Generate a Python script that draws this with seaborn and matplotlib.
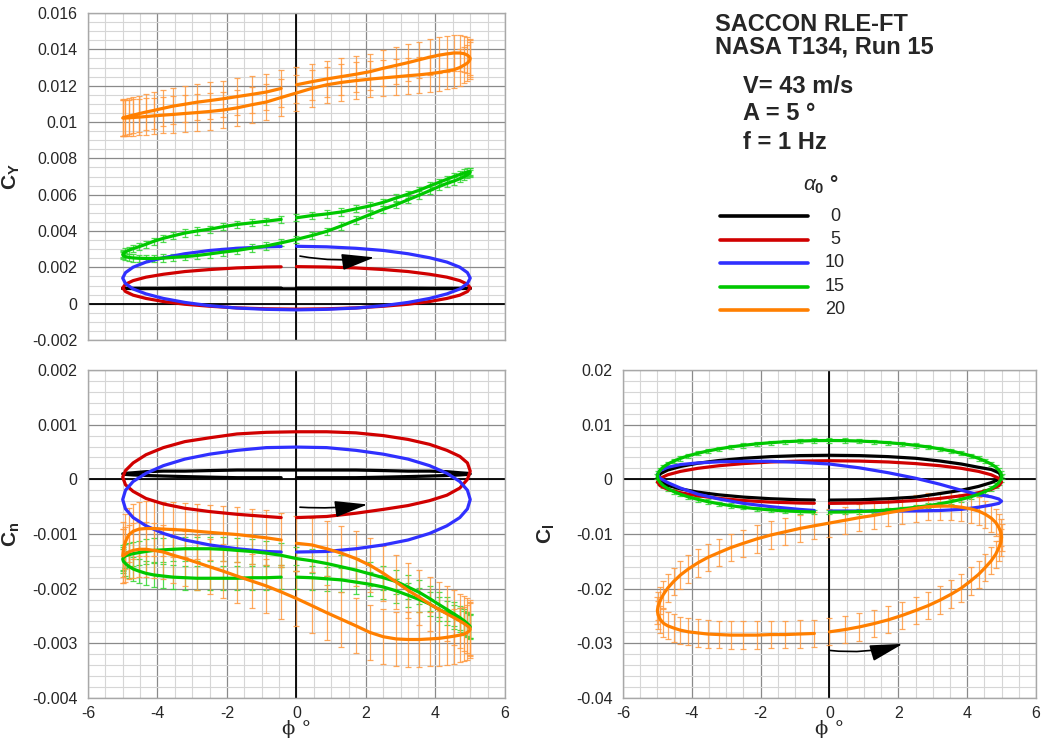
import matplotlib
matplotlib.use("Agg")
import numpy as np
import pandas as pd
import matplotlib.pyplot as plt
import seaborn as sns
from matplotlib.lines import Line2D
from matplotlib.ticker import MultipleLocator, FuncFormatter

sns.set_theme(style="white")
plt.rcParams["font.family"] = ["Liberation Sans", "DejaVu Sans"]
plt.rcParams["mathtext.fontset"] = "custom"
plt.rcParams["mathtext.rm"] = "Liberation Sans"
plt.rcParams["mathtext.bf"] = "Liberation Sans:bold"
plt.rcParams["mathtext.it"] = "Liberation Sans:italic"
plt.rcParams["axes.unicode_minus"] = False

# ---------------------------------------------------------------------------
# Roll angle over one forced-oscillation cycle (A = 5 deg)
# fine sampling: every 5 deg of phase, coarse sampling: every 10 deg of phase
PHI_FINE = [0.0, 0.44, 0.87, 1.29, 1.71, 2.11, 2.5, 2.87, 3.21, 3.54, 3.83, 4.1, 4.33, 4.53, 4.7, 4.83, 4.92, 4.98, 5.0,
            4.98, 4.92, 4.83, 4.7, 4.53, 4.33, 4.1, 3.83, 3.54, 3.21, 2.87, 2.5, 2.11, 1.71, 1.29, 0.87, 0.44, 0.0,
            -0.44, -0.87, -1.29, -1.71, -2.11, -2.5, -2.87, -3.21, -3.54, -3.83, -4.1, -4.33, -4.53, -4.7, -4.83, -4.92, -4.98, -5.0,
            -4.98, -4.92, -4.83, -4.7, -4.53, -4.33, -4.1, -3.83, -3.54, -3.21, -2.87, -2.5, -2.11, -1.71, -1.29, -0.87, -0.44]
PHI_COARSE = [0.0, 0.87, 1.71, 2.5, 3.21, 3.83, 4.33, 4.7, 4.92, 5.0,
              4.92, 4.7, 4.33, 3.83, 3.21, 2.5, 1.71, 0.87, 0.0,
              -0.87, -1.71, -2.5, -3.21, -3.83, -4.33, -4.7, -4.92, -5.0,
              -4.92, -4.7, -4.33, -3.83, -3.21, -2.5, -1.71, -0.87, -0.44]

ALPHA0 = ["0", "5", "10", "15", "20"]
COLORS = ["#000000", "#d00000", "#3030ff", "#00c800", "#ff7f00"]
ERR_COLORS = {"15": "#33d633", "20": "#ff9a40"}

# ---- side force coefficient C_Y ----
CY_0 = [0.00086, 0.00086, 0.00086, 0.00086, 0.00086, 0.00085, 0.00085, 0.00085, 0.00084, 0.00084,
        0.00084, 0.00083, 0.00083, 0.00083, 0.00082, 0.00082, 0.00082, 0.00082, 0.00082,
        0.00082, 0.00082, 0.00082, 0.00082, 0.00083, 0.00083, 0.00083, 0.00084, 0.00084,
        0.00084, 0.00085, 0.00085, 0.00085, 0.00086, 0.00086, 0.00086, 0.00086, 0.00086]
CY_5 = [0.00204, 0.00202, 0.00197, 0.00188, 0.00177, 0.00162, 0.00146, 0.00127, 0.00107, 0.00087,
        0.00067, 0.00047, 0.00029, 0.00012, -0.00003, -0.00014, -0.00023, -0.00028, -0.0003,
        -0.00028, -0.00023, -0.00014, -0.00003, 0.00012, 0.00029, 0.00047, 0.00067, 0.00087,
        0.00107, 0.00127, 0.00146, 0.00162, 0.00177, 0.00188, 0.00197, 0.00202, 0.00203]
CY_10 = [0.00316, 0.00313, 0.00305, 0.00293, 0.00275, 0.00253, 0.00229, 0.00201, 0.00171, 0.00141,
         0.00111, 0.00081, 0.00054, 0.00029, 0.00007, -0.00011, -0.00024, -0.00031, -0.00034,
         -0.00031, -0.00024, -0.00011, 0.00007, 0.00029, 0.00054, 0.00081, 0.00111, 0.00141,
         0.00171, 0.00201, 0.00229, 0.00253, 0.00275, 0.00293, 0.00305, 0.00313, 0.00315]
CY_15 = [0.00473, 0.00485, 0.00494, 0.00505, 0.00522, 0.00538, 0.00558, 0.00582, 0.00603, 0.00625, 0.00648, 0.00668, 0.00685, 0.007, 0.00711, 0.0072, 0.00725, 0.00727, 0.00725,
         0.00718, 0.0071, 0.007, 0.00688, 0.00675, 0.00662, 0.00645, 0.00622, 0.00598, 0.00572, 0.00545, 0.0052, 0.0049, 0.0046, 0.00428, 0.00398, 0.00375, 0.00354,
         0.00335, 0.00318, 0.00306, 0.00293, 0.00284, 0.00274, 0.00265, 0.00259, 0.00255, 0.00251, 0.00249, 0.00249, 0.0025, 0.00252, 0.00255, 0.00259, 0.00264, 0.0027,
         0.00277, 0.00285, 0.00294, 0.00303, 0.00314, 0.00327, 0.00344, 0.0036, 0.00374, 0.00389, 0.004, 0.0041, 0.00424, 0.00436, 0.00445, 0.00454, 0.00464]
CY_20 = [0.01205, 0.01222, 0.01237, 0.0125, 0.01263, 0.01277, 0.01296, 0.01312, 0.01327, 0.01343, 0.01357, 0.01368, 0.01375, 0.0138, 0.0138, 0.01376, 0.01368, 0.01358, 0.0135,
         0.01338, 0.01325, 0.01314, 0.013, 0.01288, 0.01281, 0.01273, 0.01266, 0.0126, 0.01255, 0.01249, 0.01243, 0.01236, 0.01228, 0.01218, 0.01205, 0.01185, 0.0116,
         0.01135, 0.0111, 0.01095, 0.01078, 0.01066, 0.01058, 0.01052, 0.01047, 0.01042, 0.01038, 0.01034, 0.0103, 0.01027, 0.01025, 0.01023, 0.01022, 0.01022, 0.01022,
         0.01024, 0.01027, 0.01032, 0.01038, 0.01046, 0.01055, 0.01064, 0.01076, 0.01088, 0.01098, 0.01109, 0.01118, 0.01128, 0.0114, 0.01152, 0.01165, 0.01185]
CY_ERR = {"15": 0.0002, "20": 0.001}

# ---- yawing moment coefficient C_n ----
CN_0 = [0.00003, 0.00003, 0.00003, 0.00004, 0.00005, 0.00006, 0.00007, 0.00008, 0.00009, 0.0001,
        0.00011, 0.00012, 0.00014, 0.00015, 0.00015, 0.00016, 0.00017, 0.00017, 0.00017,
        0.00017, 0.00017, 0.00016, 0.00015, 0.00015, 0.00014, 0.00012, 0.00011, 0.0001,
        0.00009, 0.00008, 0.00007, 0.00006, 0.00005, 0.00004, 0.00003, 0.00003, 0.00003]
CN_5 = [-0.0007, -0.00068, -0.00062, -0.00055, -0.00048, -0.00039, -0.00029, -0.00016, 0.0, 0.00015,
        0.0003, 0.00042, 0.00053, 0.00064, 0.00073, 0.0008, 0.00085, 0.00087, 0.00087,
        0.00086, 0.00083, 0.00076, 0.00069, 0.00058, 0.00045, 0.0003, 0.00016, 0.00004,
        -0.0001, -0.00022, -0.00035, -0.00045, -0.00053, -0.00059, -0.00064, -0.00068, -0.0007]
CN_10 = [-0.00133, -0.00132, -0.00127, -0.0012, -0.00111, -0.00099, -0.00085, -0.0007, -0.00054, -0.00037,
         -0.0002, -0.00004, 0.00011, 0.00025, 0.00037, 0.00046, 0.00053, 0.00058, 0.00059,
         0.00058, 0.00053, 0.00046, 0.00037, 0.00025, 0.00011, -0.00004, -0.0002, -0.00037,
         -0.00054, -0.0007, -0.00085, -0.00099, -0.00111, -0.0012, -0.00127, -0.00132, -0.00133]
CN_15 = [-0.00179, -0.0018, -0.00182, -0.00184, -0.00188, -0.00192, -0.00197, -0.00204, -0.00212, -0.0022, -0.00228, -0.00238, -0.00245, -0.00252, -0.00258, -0.00263, -0.00267, -0.00269, -0.0027,
         -0.00268, -0.00264, -0.00259, -0.00253, -0.00246, -0.00238, -0.00229, -0.00218, -0.00207, -0.00197, -0.00187, -0.0018, -0.00173, -0.00166, -0.0016, -0.00154, -0.00149, -0.00145,
         -0.00139, -0.00135, -0.00132, -0.0013, -0.00128, -0.00127, -0.00127, -0.00127, -0.00128, -0.00129, -0.0013, -0.00132, -0.00134, -0.00136, -0.00138, -0.0014, -0.00143, -0.00146,
         -0.0015, -0.00154, -0.00159, -0.00164, -0.00168, -0.00172, -0.00175, -0.00177, -0.00179, -0.0018, -0.00181, -0.00181, -0.00181, -0.00181, -0.0018, -0.0018, -0.00179]
CN_20 = [-0.00117, -0.0012, -0.00127, -0.00135, -0.00145, -0.00157, -0.00172, -0.00188, -0.00203, -0.00216, -0.00228, -0.00238, -0.00246, -0.00253, -0.00259, -0.00264, -0.00268, -0.00271, -0.00274,
         -0.00277, -0.0028, -0.00283, -0.00285, -0.00287, -0.00289, -0.00291, -0.00292, -0.00293, -0.00293, -0.00292, -0.00288, -0.0028, -0.00268, -0.00256, -0.00244, -0.00231, -0.00218,
         -0.00206, -0.00195, -0.00186, -0.00177, -0.00168, -0.0016, -0.00152, -0.00145, -0.00139, -0.00133, -0.0013, -0.00128, -0.00128, -0.0013, -0.00133, -0.00137, -0.0014, -0.0014,
         -0.00128, -0.00114, -0.00102, -0.00095, -0.00091, -0.0009, -0.0009, -0.00091, -0.00092, -0.00093, -0.00095, -0.00097, -0.00099, -0.00101, -0.00104, -0.00107, -0.00111]
CN_ERR = {"15": 0.00022, "20": 0.0005}

# ---- rolling moment coefficient C_l ----
CL_0 = [-0.0038, -0.00374, -0.00355, -0.00325, -0.0026, -0.002, -0.0013, -0.0006, 0.0, 0.0006,
        0.0012, 0.0018, 0.0022, 0.0028, 0.00335, 0.00385, 0.00415, 0.00434, 0.0044,
        0.00434, 0.00415, 0.00385, 0.00344, 0.00294, 0.00235, 0.0017, 0.00101, 0.0003,
        -0.00041, -0.0011, -0.00175, -0.00234, -0.00284, -0.00325, -0.00355, -0.00374, -0.00378]
CL_5 = [-0.0044, -0.00434, -0.00417, -0.00388, -0.00349, -0.00301, -0.00245, -0.00183, -0.00118, -0.0005,
        0.00018, 0.00083, 0.00145, 0.00201, 0.00249, 0.00288, 0.00317, 0.00334, 0.0034,
        0.00334, 0.00317, 0.00288, 0.00249, 0.00201, 0.00145, 0.00083, 0.00018, -0.0005,
        -0.00118, -0.00183, -0.00245, -0.00301, -0.00349, -0.00388, -0.00417, -0.00434, -0.00438]
CL_10 = [-0.0058, -0.0058, -0.0058, -0.00578, -0.0057, -0.0055, -0.0051, -0.0047, -0.0044, -0.004,
         -0.0036, -0.0032, -0.0028, -0.002, -0.0009, 0.0002, 0.0012, 0.0021, 0.0028,
         0.0031, 0.0033, 0.0033, 0.0032, 0.003, 0.0027, 0.0022, 0.0016, 0.0009,
         0.0002, -0.0006, -0.0016, -0.0027, -0.0036, -0.0044, -0.005, -0.0055, -0.0057]
CL_15 = [-0.006, -0.00598, -0.0059, -0.00578, -0.0056, -0.00539, -0.00512, -0.00482, -0.00447, -0.00408, -0.00366, -0.00321, -0.00273, -0.00222, -0.00169, -0.00115, -0.00059, -0.00002, 0.00055,
         0.00112, 0.00169, 0.00225, 0.00279, 0.00332, 0.00383, 0.00431, 0.00476, 0.00518, 0.00557, 0.00592, 0.00622, 0.00649, 0.0067, 0.00688, 0.007, 0.00708, 0.0071,
         0.00708, 0.007, 0.00688, 0.0067, 0.00649, 0.00622, 0.00592, 0.00557, 0.00518, 0.00476, 0.00431, 0.00383, 0.00332, 0.00279, 0.00225, 0.00169, 0.00112, 0.00055,
         -0.00002, -0.00059, -0.00115, -0.00169, -0.00222, -0.00273, -0.00321, -0.00366, -0.00408, -0.00447, -0.00482, -0.00512, -0.00539, -0.0056, -0.00578, -0.0059, -0.00598]
CL_20 = [-0.0279, -0.0275, -0.027, -0.0264, -0.0257, -0.0249, -0.024, -0.0231, -0.0221, -0.021, -0.0199, -0.0186, -0.0174, -0.0161, -0.0149, -0.0137, -0.0125, -0.0115, -0.0106,
         -0.0097, -0.0088, -0.0079, -0.0071, -0.0064, -0.0058, -0.0054, -0.0051, -0.0049, -0.0049, -0.005, -0.0053, -0.0057, -0.0061, -0.0066, -0.007, -0.0075, -0.008,
         -0.0085, -0.009, -0.0096, -0.0102, -0.0109, -0.0117, -0.0125, -0.0134, -0.0143, -0.0153, -0.0164, -0.0175, -0.0187, -0.0199, -0.0211, -0.0222, -0.0232, -0.024,
         -0.0248, -0.0256, -0.0263, -0.0268, -0.0272, -0.0276, -0.0279, -0.0281, -0.0283, -0.0284, -0.0285, -0.0285, -0.0285, -0.0284, -0.0284, -0.0283, -0.0282]
CL_ERR = {"15": 0.0004, "20": 0.0025}

CY_TICKS = [-0.002, 0.0, 0.002, 0.004, 0.006, 0.008, 0.01, 0.012, 0.014, 0.016]
CN_TICKS = [-0.004, -0.003, -0.002, -0.001, 0.0, 0.001, 0.002]
CL_TICKS = [-0.04, -0.03, -0.02, -0.01, 0.0, 0.01, 0.02]
PHI_TICKS = [-6, -4, -2, 0, 2, 4, 6]


def tick_label(v, pos):
    s = f"{v:.4f}".rstrip("0").rstrip(".")
    return "0" if s in ("-0", "0", "") else s


def style_axes(ax, ticks, minor_step, show_x):
    ax.set_xlim(PHI_TICKS[0], PHI_TICKS[-1])
    ax.set_ylim(ticks[0], ticks[-1])
    ax.set_xticks(PHI_TICKS)
    ax.set_yticks(ticks)
    ax.xaxis.set_minor_locator(MultipleLocator(0.5))
    ax.yaxis.set_minor_locator(MultipleLocator(minor_step))
    ax.yaxis.set_major_formatter(FuncFormatter(tick_label))
    ax.grid(which="major", color="#8a8a8a", lw=0.9)
    ax.grid(which="minor", color="#d6d6d6", lw=0.8)
    ax.set_axisbelow(True)
    ax.axhline(0, color="black", lw=1.3, zorder=1.5)
    ax.axvline(0, color="black", lw=1.3, zorder=1.5)
    for sp in ax.spines.values():
        sp.set_color("#a8a8a8")
        sp.set_linewidth(1.0)
    ax.tick_params(axis="y", which="both", length=0, labelsize=11.5, pad=7.5)
    ax.tick_params(axis="x", which="both", length=0, labelsize=11.5, pad=6)
    if not show_x:
        ax.tick_params(axis="x", labelbottom=False)


def draw_loops(ax, curves, errs):
    for a0, color, (phi, vals) in zip(ALPHA0, COLORS, curves):
        df = pd.DataFrame({"phi": phi, "val": vals})
        if a0 in errs:
            ax.errorbar(df["phi"], df["val"], yerr=errs[a0], fmt="none",
                        ecolor=ERR_COLORS[a0], elinewidth=0.9, capsize=2.2,
                        capthick=0.9, alpha=0.85, zorder=2)
        sns.lineplot(data=df, x="phi", y="val", sort=False, estimator=None,
                     color=color, lw=2.3, ax=ax, zorder=3, legend=False)


fig = plt.figure(figsize=(10.47, 7.4), dpi=100)
ax_cy = fig.add_axes([0.0840, 0.5405, 0.3983, 0.4419])
ax_cn = fig.add_axes([0.0840, 0.0568, 0.3983, 0.4432])
ax_cl = fig.add_axes([0.5950, 0.0568, 0.3945, 0.4432])

draw_loops(ax_cy, [(PHI_COARSE, CY_0), (PHI_COARSE, CY_5), (PHI_COARSE, CY_10),
                   (PHI_FINE, CY_15), (PHI_FINE, CY_20)], CY_ERR)
draw_loops(ax_cn, [(PHI_COARSE, CN_0), (PHI_COARSE, CN_5), (PHI_COARSE, CN_10),
                   (PHI_FINE, CN_15), (PHI_FINE, CN_20)], CN_ERR)
draw_loops(ax_cl, [(PHI_COARSE, CL_0), (PHI_COARSE, CL_5), (PHI_COARSE, CL_10),
                   (PHI_FINE, CL_15), (PHI_FINE, CL_20)], CL_ERR)

style_axes(ax_cy, CY_TICKS, 0.0005, False)
style_axes(ax_cn, CN_TICKS, 0.0002, True)
style_axes(ax_cl, CL_TICKS, 0.002, True)

for ax, lab, lx in [(ax_cy, r"$\mathbf{C_Y}$", -0.158),
                    (ax_cn, r"$\mathbf{C_n}$", -0.158),
                    (ax_cl, r"$\mathbf{C_l}$", -0.160)]:
    ax.set_ylabel(lab, fontsize=15)
    ax.yaxis.set_label_coords(lx, 0.5)
    ax.set_xlabel("")
for ax in (ax_cn, ax_cl):
    ax.set_xlabel("\u03d5 \u00b0", fontsize=14, family=["DejaVu Serif"])
    ax.xaxis.set_label_coords(0.5, -0.066)

# direction-of-motion arrows
arrow_kw = dict(arrowstyle="-|>,head_length=1.7,head_width=0.42", color="black",
                lw=1.2, shrinkA=0, shrinkB=0)
ax_cy.annotate("", xy=(2.25, 0.00255), xytext=(0.1, 0.00262),
               arrowprops=dict(connectionstyle="arc3,rad=0.08", **arrow_kw))
ax_cn.annotate("", xy=(2.05, -0.00046), xytext=(0.1, -0.00051),
               arrowprops=dict(connectionstyle="arc3,rad=0.05", **arrow_kw))
ax_cl.annotate("", xy=(2.13, -0.0301), xytext=(0.0, -0.0313),
               arrowprops=dict(connectionstyle="arc3,rad=0.1", **arrow_kw))

# run description
fig.text(0.683, 0.982, "SACCON RLE-FT", fontsize=17, fontweight="bold", va="top")
fig.text(0.683, 0.952, "NASA T134, Run 15", fontsize=17, fontweight="bold", va="top")
fig.text(0.7096, 0.899, "V= 43 m/s", fontsize=17, fontweight="bold", va="top")
fig.text(0.7096, 0.8615, "A = 5 \u00b0", fontsize=17, fontweight="bold", va="top")
fig.text(0.7096, 0.8223, "f = 1 Hz", fontsize=17, fontweight="bold", va="top")

# legend for the mean angle of attack
fig.text(0.767, 0.75, r"$\alpha_\mathbf{0}$ $\mathbf{\degree}$", fontsize=15, va="center")
leg_y = [0.7081, 0.6757, 0.6446, 0.6122, 0.5811]
for a0, color, y in zip(ALPHA0, COLORS, leg_y):
    fig.add_artist(Line2D([0.6877, 0.7717], [y, y], transform=fig.transFigure,
                          color=color, lw=2.6))
    fig.text(0.7975, y, a0, fontsize=13, ha="center", va="center")

fig.savefig("out.png", dpi=100)
